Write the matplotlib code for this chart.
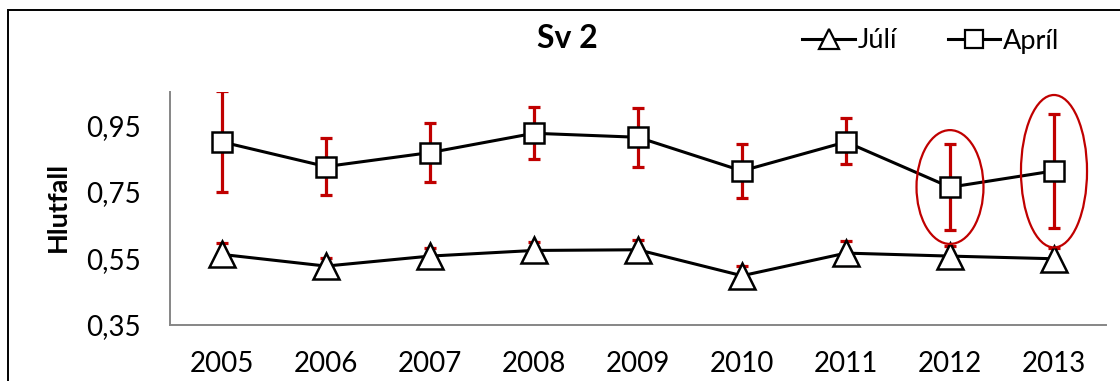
import matplotlib
matplotlib.use("Agg")
import matplotlib.pyplot as plt
from matplotlib.patches import Ellipse, Rectangle
from matplotlib.lines import Line2D
from matplotlib.ticker import FixedLocator, FuncFormatter

plt.rcParams['font.family'] = ['Lato', 'DejaVu Sans']

years = ['2005', '2006', '2007', '2008', '2009', '2010', '2011', '2012', '2013']

# Apríl: mean with lower / upper error-bar ends
april = [0.900, 0.826, 0.868, 0.926, 0.914, 0.813, 0.900, 0.764, 0.813]
april_low = [0.749, 0.741, 0.779, 0.848, 0.825, 0.732, 0.833, 0.636, 0.640]
april_high = [1.054, 0.911, 0.958, 1.004, 1.002, 0.895, 0.971, 0.893, 0.984]

# Júlí: mean with upper error-bar end (symmetric error)
juli = [0.562, 0.527, 0.557, 0.574, 0.576, 0.498, 0.566, 0.557, 0.549]
juli_high = [0.595, 0.550, 0.582, 0.600, 0.605, 0.527, 0.602, 0.587, 0.582]

yticks = [0.35, 0.55, 0.75, 0.95]

RED = '#C00000'
W, H = 1120, 381
fig = plt.figure(figsize=(W / 100, H / 100), dpi=100)

# outer chart frame (bottom edge runs off the image)
fig.add_artist(Rectangle((8 / W, -0.1), (W + 20) / W, (H - 10) / H + 0.1,
                         transform=fig.transFigure, fill=False,
                         edgecolor='black', linewidth=1.4, zorder=0))

ax = fig.add_axes([170 / W, (H - 325) / H, (1106 - 170) / W, (325 - 92) / H])
x = list(range(len(years)))

# error bars
a_err = [[m - l for m, l in zip(april, april_low)],
         [h - m for m, h in zip(april, april_high)]]
j_err = [[h - m for m, h in zip(juli, juli_high)],
         [h - m for m, h in zip(juli, juli_high)]]
ax.errorbar(x, april, yerr=a_err, fmt='none', ecolor=RED, elinewidth=2.3,
            capsize=4.3, capthick=2.3, zorder=2)
ax.errorbar(x, juli, yerr=j_err, fmt='none', ecolor=RED, elinewidth=2.3,
            capsize=4.3, capthick=2.3, zorder=2)

ax.plot(x, juli, color='black', linewidth=2.2, marker='^', markersize=19,
        markerfacecolor='white', markeredgecolor='black',
        markeredgewidth=1.8, zorder=3)
ax.plot(x, april, color='black', linewidth=2.2, marker='s', markersize=15,
        markerfacecolor='white', markeredgecolor='black',
        markeredgewidth=1.8, zorder=3)

# highlight rings around the last two April points
for i, (w, h) in zip([7, 8], [(0.644, 0.342), (0.635, 0.458)]):
    cy = (april_low[i] + april_high[i]) / 2
    ax.add_patch(Ellipse((i, cy), w, h, fill=False, edgecolor=RED,
                         linewidth=1.6, zorder=4))

ax.set_xlim(-0.5, len(years) - 0.5)
ax.set_ylim(0.35, 1.05)
ax.yaxis.set_major_locator(FixedLocator(yticks))
ax.yaxis.set_major_formatter(FuncFormatter(lambda v, p: f'{v:.2f}'.replace('.', ',')))
ax.set_xticks(x)
ax.set_xticklabels(years)
ax.tick_params(axis='both', length=0, labelsize=20)
ax.tick_params(axis='y', pad=21)
ax.tick_params(axis='x', pad=19)

for s in ['top', 'right']:
    ax.spines[s].set_visible(False)
for s in ['left', 'bottom']:
    ax.spines[s].set_color('#868686')
    ax.spines[s].set_linewidth(1.4)

fig.text(58 / W, 1 - 207 / H, 'Hlutfall', fontsize=19.5, fontweight='bold',
         rotation=90, ha='center', va='center')

fig.text(567 / W, 1 - 39 / H, 'Sv 2', fontsize=23, fontweight='bold',
         ha='center', va='center')

handles = [
    Line2D([], [], color='black', linewidth=2.2, marker='^', markersize=14.5,
           markerfacecolor='white', markeredgecolor='black', markeredgewidth=1.6),
    Line2D([], [], color='black', linewidth=2.2, marker='s', markersize=13,
           markerfacecolor='white', markeredgecolor='black', markeredgewidth=1.6),
]
fig.legend(handles, ['Júlí', 'Apríl'], loc='center', ncol=2, frameon=False,
           bbox_to_anchor=(931 / W, 1 - 41 / H), fontsize=19.5,
           handlelength=1.95, handletextpad=0.1, columnspacing=1.85,
           borderpad=0, borderaxespad=0)

fig.savefig('out.png', dpi=100)
